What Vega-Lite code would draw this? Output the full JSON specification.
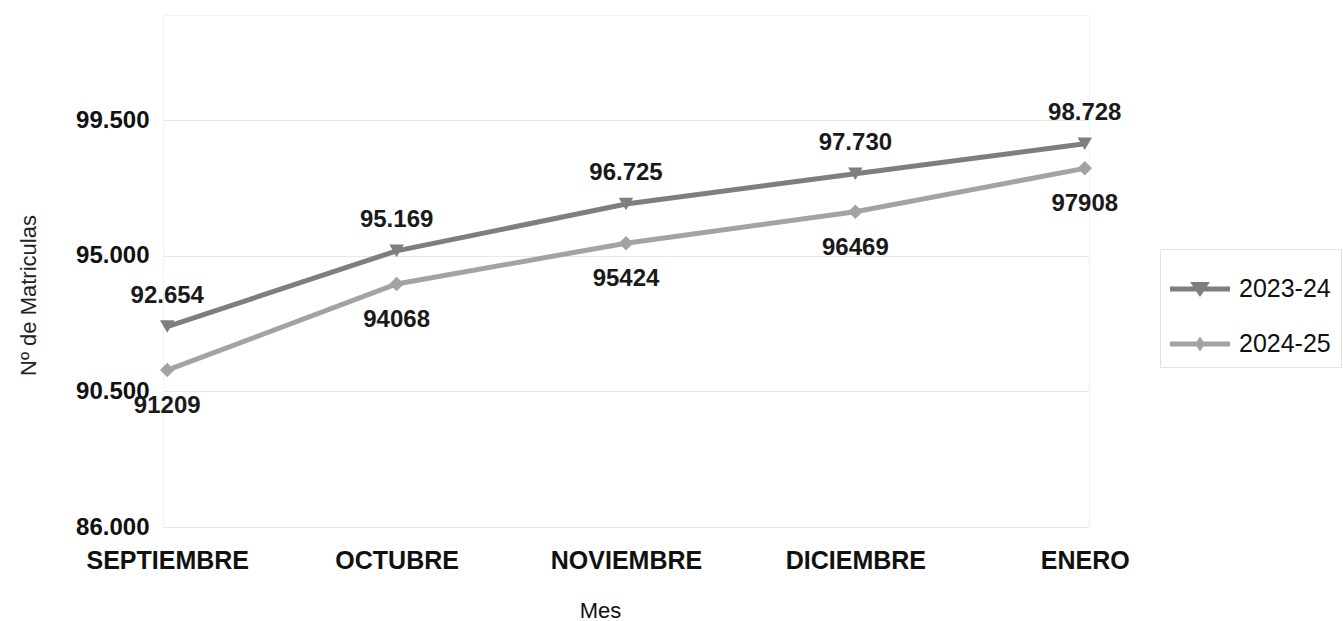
{
  "$schema": "https://vega.github.io/schema/vega-lite/v6.json",
  "width": 926,
  "height": 512,
  "autosize": {"type": "none"},
  "padding": {"left": 163, "top": 15, "right": 254, "bottom": 94},
  "background": "white",
  "config": {
    "font": "Liberation Sans",
    "view": {"stroke": "#f2f2f2", "strokeWidth": 1}
  },
  "data": {
    "values": [
      {"mes": "SEPTIEMBRE", "serie": "2023-24", "valor": 92654, "label": "92.654"},
      {"mes": "OCTUBRE", "serie": "2023-24", "valor": 95169, "label": "95.169"},
      {"mes": "NOVIEMBRE", "serie": "2023-24", "valor": 96725, "label": "96.725"},
      {"mes": "DICIEMBRE", "serie": "2023-24", "valor": 97730, "label": "97.730"},
      {"mes": "ENERO", "serie": "2023-24", "valor": 98728, "label": "98.728"},
      {"mes": "SEPTIEMBRE", "serie": "2024-25", "valor": 91209, "label": "91209"},
      {"mes": "OCTUBRE", "serie": "2024-25", "valor": 94068, "label": "94068"},
      {"mes": "NOVIEMBRE", "serie": "2024-25", "valor": 95424, "label": "95424"},
      {"mes": "DICIEMBRE", "serie": "2024-25", "valor": 96469, "label": "96469"},
      {"mes": "ENERO", "serie": "2024-25", "valor": 97908, "label": "97908"}
    ]
  },
  "encoding": {
    "x": {
      "field": "mes",
      "type": "ordinal",
      "sort": ["SEPTIEMBRE", "OCTUBRE", "NOVIEMBRE", "DICIEMBRE", "ENERO"],
      "scale": {"type": "point", "padding": 0.0185},
      "axis": {
        "title": "Mes",
        "labelAngle": 0,
        "domain": false,
        "ticks": false,
        "tickSize": 0,
        "grid": false,
        "labelFontSize": 25,
        "labelFontWeight": "bold",
        "labelColor": "#111111",
        "labelBaseline": "alphabetic",
        "labelPadding": 41,
        "titleFontSize": 22,
        "titleFontWeight": "normal",
        "titleColor": "#111111",
        "titleX": 437,
        "titleY": 90,
        "titleAlign": "center",
        "titleBaseline": "alphabetic"
      }
    },
    "y": {
      "field": "valor",
      "type": "quantitative",
      "scale": {"domain": [86000, 103000], "nice": false, "zero": false},
      "axis": {
        "title": "Nº de Matriculas",
        "values": [86000, 90500, 95000, 99500],
        "labelExpr": "replace(format(datum.value, ','), ',', '.')",
        "domain": false,
        "ticks": false,
        "tickSize": 0,
        "gridColor": "#e8e8e8",
        "labelFontSize": 24,
        "labelFontWeight": "bold",
        "labelColor": "#111111",
        "labelPadding": 14,
        "titleFontSize": 22,
        "titleFontWeight": "normal",
        "titleColor": "#222222",
        "titleAngle": -90,
        "titleX": -128,
        "titleY": 280,
        "titleAlign": "center",
        "titleBaseline": "alphabetic"
      }
    }
  },
  "layer": [
    {
      "mark": {"type": "line", "strokeWidth": 5},
      "encoding": {
        "color": {
          "field": "serie",
          "type": "nominal",
          "scale": {"domain": ["2023-24", "2024-25"], "range": ["#7e7e7e", "#a3a3a3"]},
          "legend": {
            "title": null,
            "orient": "none",
            "legendX": 997,
            "legendY": 234,
            "padding": 10,
            "symbolSize": 3600,
            "symbolStrokeWidth": 0,
            "labelFontSize": 25,
            "labelColor": "#111111",
            "labelOffset": 9,
            "rowPadding": 12,
            "strokeColor": "#e2e2e2",
            "encode": {
              "symbols": {
                "update": {
                  "fill": {"scale": "color", "field": "value"},
                  "stroke": {"value": "transparent"},
                  "shape": {"signal": "datum.value == '2023-24' ? 'M-1,-0.085H1V0.085H-1Z M-0.33,-0.23H0.33L0,0.27Z' : 'M-1,-0.085H1V0.085H-1Z M0,-0.25L0.17,0L0,0.25L-0.17,0Z'"}
                }
              }
            }
          }
        }
      }
    },
    {
      "mark": {"type": "point", "filled": true, "opacity": 1, "size": 210},
      "encoding": {
        "color": {
          "field": "serie",
          "type": "nominal",
          "scale": {"domain": ["2023-24", "2024-25"], "range": ["#7e7e7e", "#a3a3a3"]},
          "legend": {
            "title": null,
            "orient": "none",
            "legendX": 997,
            "legendY": 234,
            "padding": 10,
            "symbolSize": 3600,
            "symbolStrokeWidth": 0,
            "labelFontSize": 25,
            "labelColor": "#111111",
            "labelOffset": 9,
            "rowPadding": 12,
            "strokeColor": "#e2e2e2",
            "encode": {
              "symbols": {
                "update": {
                  "fill": {"scale": "color", "field": "value"},
                  "stroke": {"value": "transparent"},
                  "shape": {"signal": "datum.value == '2023-24' ? 'M-1,-0.085H1V0.085H-1Z M-0.33,-0.23H0.33L0,0.27Z' : 'M-1,-0.085H1V0.085H-1Z M0,-0.25L0.17,0L0,0.25L-0.17,0Z'"}
                }
              }
            }
          }
        },
        "shape": {
          "field": "serie",
          "type": "nominal",
          "scale": {"range": ["triangle-down", "diamond"]},
          "legend": null
        }
      }
    },
    {
      "transform": [{"filter": "datum.serie == '2023-24'"}],
      "mark": {"type": "text", "fontSize": 24, "fontWeight": "bold", "color": "#1a1a1a", "dy": -24, "baseline": "alphabetic"},
      "encoding": {"text": {"field": "label"}}
    },
    {
      "transform": [{"filter": "datum.serie == '2024-25'"}],
      "mark": {"type": "text", "fontSize": 24, "fontWeight": "bold", "color": "#1a1a1a", "dy": 43, "baseline": "alphabetic"},
      "encoding": {"text": {"field": "label"}}
    }
  ]
}
